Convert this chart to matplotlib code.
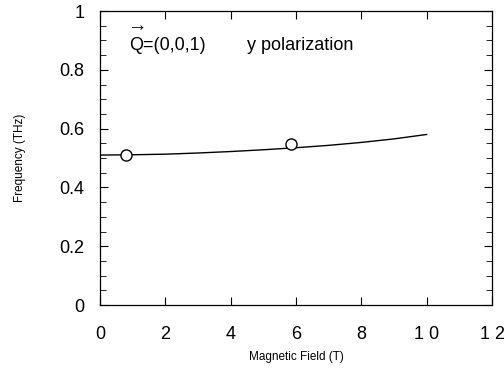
import matplotlib
matplotlib.use("Agg")
import matplotlib.pyplot as plt
from matplotlib.ticker import MultipleLocator

plt.rcParams['font.family'] = ['Liberation Sans', 'DejaVu Sans']

field_line = [0, 1, 2, 3, 4, 5, 6, 7, 8, 9, 10]
freq_line = [0.510, 0.511, 0.513, 0.517, 0.522, 0.528, 0.535, 0.543, 0.553, 0.565, 0.580]
field_pts = [0.8, 5.85]
freq_pts = [0.510, 0.549]
xticks = [0, 2, 4, 6, 8, 10, 12]
xticklabels = ['0', '2', '4', '6', '8', '1 0', '1 2']
yticks = [0, 0.2, 0.4, 0.6, 0.8, 1]
yticklabels = ['0', '0.2', '0.4', '0.6', '0.8', '1']

fig = plt.figure(figsize=(5.04, 3.69), dpi=100)
ax = fig.add_axes([100/504, 1 - 305/369, 392/504, 294/369])
ax.plot(field_line, freq_line, color='black', lw=1.0)
ax.plot(field_pts, freq_pts, 'o', mfc='white', mec='black', ms=8, mew=1.0)
ax.set_xlim(0, 12)
ax.set_ylim(0, 1)
ax.set_xticks(xticks)
ax.set_xticklabels(xticklabels)
ax.set_yticks(yticks)
ax.set_yticklabels(yticklabels)
ax.yaxis.set_minor_locator(MultipleLocator(0.05))
ax.tick_params(axis='both', which='both', direction='in', labelsize=13)
ax.tick_params(axis='x', which='major', length=6, pad=15, top=True)
ax.tick_params(axis='y', which='major', length=6, right=True, pad=11)
ax.tick_params(axis='y', which='minor', length=4, right=True)
for s in ax.spines.values():
    s.set_linewidth(0.9)
ax.set_xlabel('Magnetic Field (T)', fontsize=8.5, labelpad=6)
ax.set_ylabel('Frequency (THz)', fontsize=8.5, labelpad=24)
ax.text(0.9, 0.882, 'Q=(0,0,1)', fontsize=13, va='center')
ax.text(1.13, 0.945, '\u2192', fontsize=14, ha='center', va='center')
ax.text(4.5, 0.882, 'y polarization', fontsize=13, va='center')
fig.savefig('out.png', dpi=100)
